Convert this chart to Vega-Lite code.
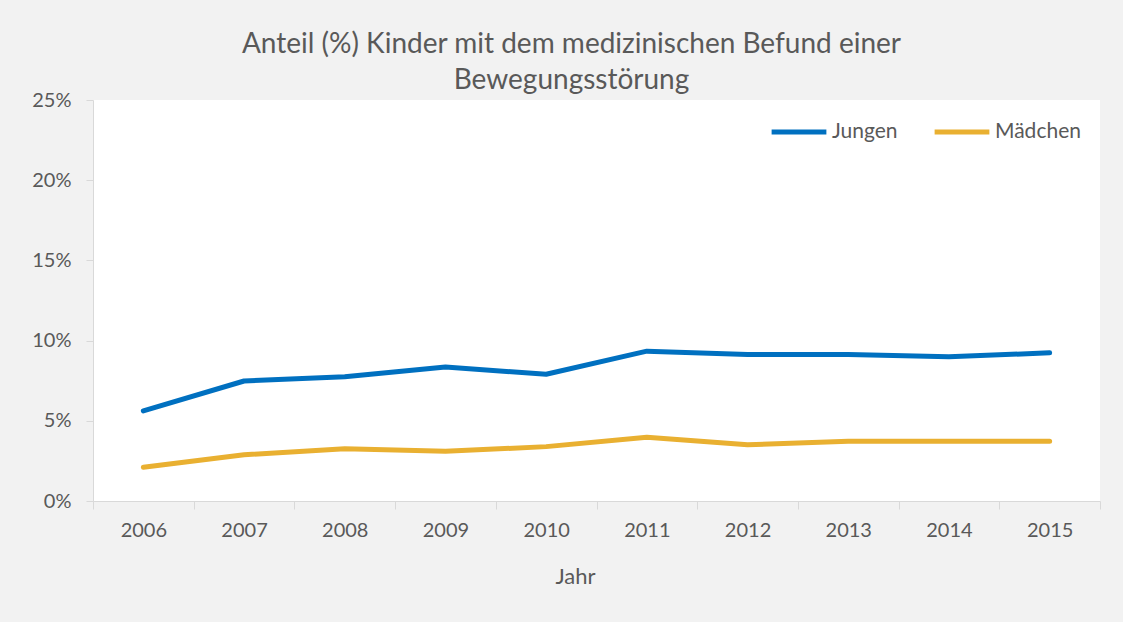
{
  "$schema": "https://vega.github.io/schema/vega-lite/v6.json",
  "autosize": "none",
  "width": 1007,
  "height": 401,
  "padding": {"left": 93, "top": 100, "right": 23, "bottom": 121},
  "background": "#f2f2f2",
  "title": {
    "text": ["Anteil (%) Kinder mit dem medizinischen Befund einer", "Bewegungsstörung"],
    "font": "Lato",
    "fontSize": 28,
    "fontWeight": "normal",
    "color": "#595959",
    "lineHeight": 36,
    "anchor": "middle",
    "dx": -25,
    "offset": -5
  },
  "config": {
    "view": {"fill": "white", "stroke": null},
    "font": "Lato"
  },
  "data": {
    "values": [
      {"Jahr": "2006", "Gruppe": "Jungen", "Anteil": 0.0562},
      {"Jahr": "2007", "Gruppe": "Jungen", "Anteil": 0.0748},
      {"Jahr": "2008", "Gruppe": "Jungen", "Anteil": 0.0775},
      {"Jahr": "2009", "Gruppe": "Jungen", "Anteil": 0.0835},
      {"Jahr": "2010", "Gruppe": "Jungen", "Anteil": 0.0790},
      {"Jahr": "2011", "Gruppe": "Jungen", "Anteil": 0.0934},
      {"Jahr": "2012", "Gruppe": "Jungen", "Anteil": 0.0914},
      {"Jahr": "2013", "Gruppe": "Jungen", "Anteil": 0.0914},
      {"Jahr": "2014", "Gruppe": "Jungen", "Anteil": 0.0899},
      {"Jahr": "2015", "Gruppe": "Jungen", "Anteil": 0.0924},
      {"Jahr": "2006", "Gruppe": "Mädchen", "Anteil": 0.0211},
      {"Jahr": "2007", "Gruppe": "Mädchen", "Anteil": 0.0288},
      {"Jahr": "2008", "Gruppe": "Mädchen", "Anteil": 0.0325},
      {"Jahr": "2009", "Gruppe": "Mädchen", "Anteil": 0.0310},
      {"Jahr": "2010", "Gruppe": "Mädchen", "Anteil": 0.0339},
      {"Jahr": "2011", "Gruppe": "Mädchen", "Anteil": 0.0397},
      {"Jahr": "2012", "Gruppe": "Mädchen", "Anteil": 0.0350},
      {"Jahr": "2013", "Gruppe": "Mädchen", "Anteil": 0.0372},
      {"Jahr": "2014", "Gruppe": "Mädchen", "Anteil": 0.0372},
      {"Jahr": "2015", "Gruppe": "Mädchen", "Anteil": 0.0372}
    ]
  },
  "mark": {"type": "line", "strokeWidth": 5, "strokeCap": "round", "strokeJoin": "round"},
  "encoding": {
    "x": {
      "field": "Jahr",
      "type": "ordinal",
      "bandPosition": 0.5,
      "scale": {"type": "band", "paddingInner": 0, "paddingOuter": 0},
      "axis": {
        "title": "Jahr",
        "titleFont": "Lato",
        "titleFontSize": 22,
        "titleFontWeight": "normal",
        "titleColor": "#595959",
        "titlePadding": 26,
        "titleX": 482,
        "titleAlign": "center",
        "labelAngle": 0,
        "labelFont": "Lato",
        "labelFontSize": 20,
        "labelColor": "#595959",
        "labelPadding": 11,
        "tickBand": "extent",
        "tickSize": 8,
        "tickColor": "#d9d9d9",
        "domainColor": "#d9d9d9",
        "grid": false
      }
    },
    "y": {
      "field": "Anteil",
      "type": "quantitative",
      "scale": {"domain": [0, 0.25]},
      "axis": {
        "title": null,
        "format": ".0%",
        "values": [0, 0.05, 0.1, 0.15, 0.2, 0.25],
        "labelFont": "Lato",
        "labelFontSize": 20,
        "labelColor": "#595959",
        "labelPadding": 15,
        "tickSize": 7,
        "tickColor": "#d9d9d9",
        "domainColor": "#d9d9d9",
        "grid": false
      }
    },
    "color": {
      "field": "Gruppe",
      "type": "nominal",
      "scale": {"domain": ["Jungen", "Mädchen"], "range": ["#0070c0", "#e9b031"]},
      "legend": {
        "title": null,
        "orient": "none",
        "direction": "horizontal",
        "legendX": 676,
        "legendY": 2,
        "symbolType": "stroke",
        "symbolSize": 3000,
        "symbolStrokeWidth": 5,
        "labelFont": "Lato",
        "labelFontSize": 21,
        "labelColor": "#595959",
        "labelOffset": 3,
        "columnPadding": 26
      }
    }
  }
}
